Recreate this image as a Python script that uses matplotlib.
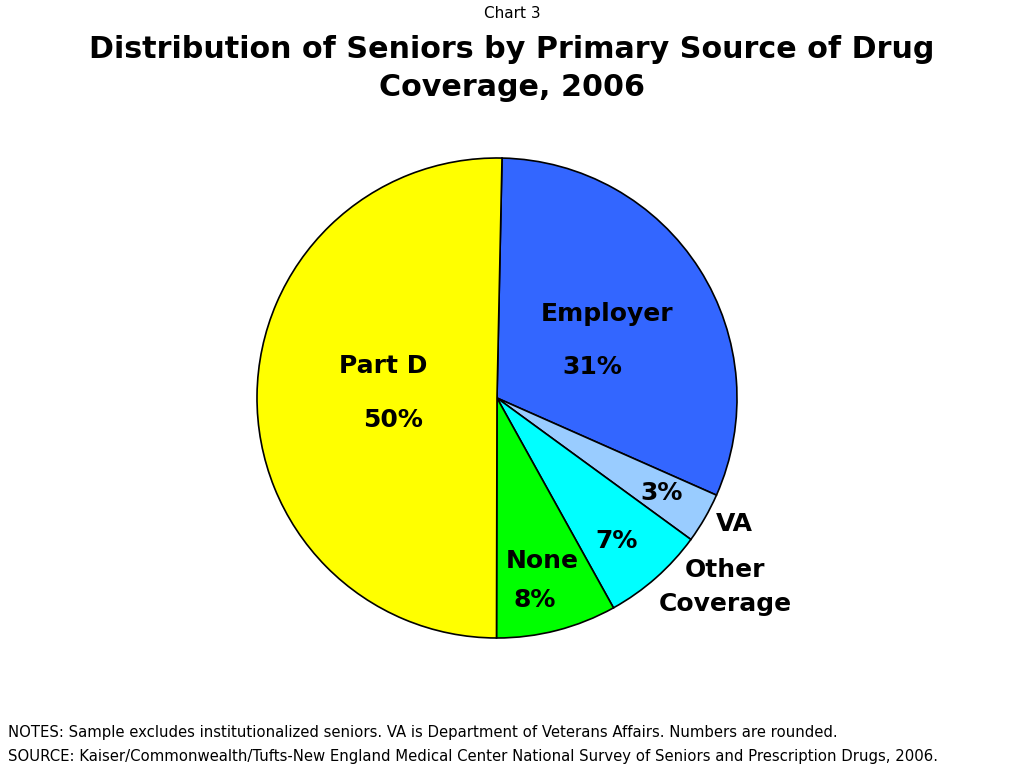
import matplotlib
matplotlib.use("Agg")
import matplotlib.pyplot as plt

# slice data, clockwise from the top
categories = ["Employer", "VA", "Other Coverage", "None", "Part D"]
shares = [31.3, 3.4, 6.9, 8.1, 50.3]
share_labels = ["31%", "3%", "7%", "8%", "50%"]
colors = ["#3366FF", "#99CCFF", "#00FFFF", "#00FF00", "#FFFF00"]

title_small = "Chart 3"
title_lines = ["Distribution of Seniors by Primary Source of Drug", "Coverage, 2006"]
notes = "NOTES: Sample excludes institutionalized seniors. VA is Department of Veterans Affairs. Numbers are rounded."
source = "SOURCE: Kaiser/Commonwealth/Tufts-New England Medical Center National Survey of Seniors and Prescription Drugs, 2006."


def main():
  fig = plt.figure(figsize=(10.24, 7.68), dpi=100)
  W, H = 1024, 768
  cx, cy, r = 497, 398, 240
  ax = fig.add_axes([(cx - r) / W, (H - cy - r) / H, 2 * r / W, 2 * r / H])
  wedges, _ = ax.pie(shares, colors=colors, startangle=88.8, counterclock=False, radius=1,
                     wedgeprops=dict(edgecolor="black", linewidth=1.2))
  for w in wedges:
    w.set_clip_on(False)
  ax.set_xlim(-1, 1)
  ax.set_ylim(-1, 1)
  ax.axis("off")

  fs = 18
  bold = dict(fontsize=fs, fontweight="bold", ha="center", va="center", family="DejaVu Sans")
  # category names
  ax.text(0.458, 0.35, "Employer", **bold)
  ax.text(-0.475, 0.133, "Part D", **bold)
  ax.text(0.99, -0.525, "VA", **bold)
  ax.text(0.95, -0.717, "Other", **bold)
  ax.text(0.95, -0.858, "Coverage", **bold)
  ax.text(0.19, -0.68, "None", **bold)
  # percentages
  pos = [(0.396, 0.129), (0.6875, -0.396), (0.5, -0.596), (0.158, -0.842), (-0.433, -0.092)]
  for (x, y), lab in zip(pos, share_labels):
    ax.text(x, y, lab, **bold)

  fig.text(0.5, 1 - 14 / H, title_small, ha="center", va="center", fontsize=11)
  fig.text(0.5, 1 - 50 / H, title_lines[0], ha="center", va="center", fontsize=21.7, fontweight="bold")
  fig.text(0.5, 1 - 88 / H, title_lines[1], ha="center", va="center", fontsize=21.7, fontweight="bold")

  fig.text(8 / W, 1 - 732 / H, notes, ha="left", va="center", fontsize=10.75)
  fig.text(8 / W, 1 - 756 / H, source, ha="left", va="center", fontsize=10.75)

  fig.savefig("out.png", dpi=100, facecolor="white")


if __name__ == "__main__":
  main()
